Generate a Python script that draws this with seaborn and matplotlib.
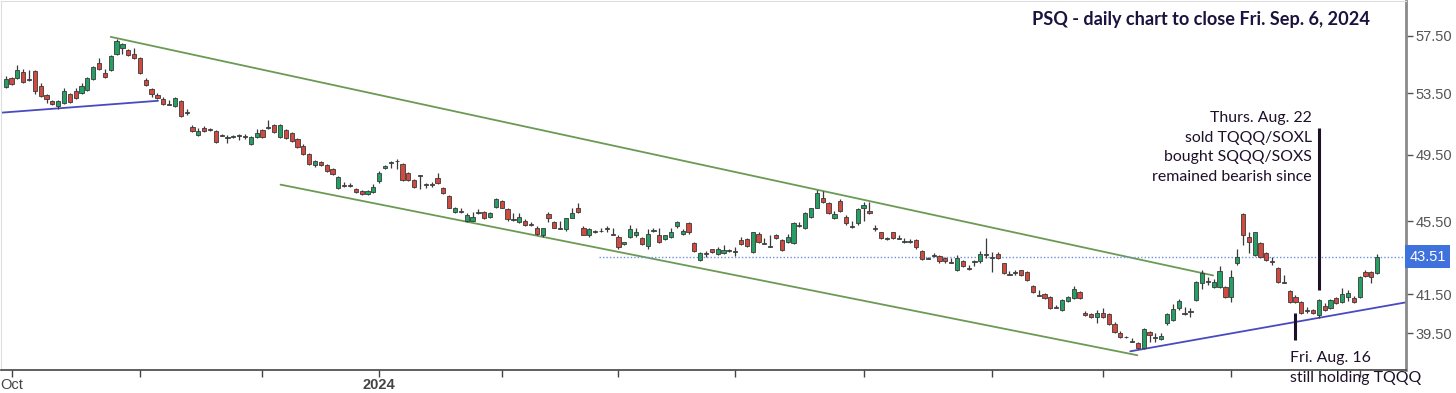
import numpy as np
import pandas as pd
import matplotlib
matplotlib.use("Agg")
import matplotlib.pyplot as plt
import seaborn as sns
from matplotlib.transforms import blended_transform_factory
from matplotlib.ticker import FixedLocator, FixedFormatter, NullLocator

# ---------------- data ----------------
start_date = "2023-09-29"
end_date = "2024-09-06"
market_holidays = ["2023-11-23", "2023-12-25", "2024-01-01", "2024-01-15", "2024-02-19",
                   "2024-03-29", "2024-05-27", "2024-06-19", "2024-07-04", "2024-09-02"]

opens = [53.92, 54.54, 54.54, 54.95, 54.45, 55.02, 53.99, 53.38, 52.98, 52.65,
         52.85, 53.45, 53.65, 53.52, 53.72, 54.47, 55.58, 54.88, 55.09, 56.21,
         56.64, 56.49, 56.21, 55.93, 54.40, 53.79, 53.38, 53.11, 52.75, 52.65,
         52.98, 52.15, 51.28, 50.76, 51.21, 51.10, 51.02, 50.73, 50.55, 50.62,
         50.68, 50.68, 50.19, 50.64, 51.08, 51.18, 51.40, 50.64, 51.08, 50.89,
         50.51, 50.06, 49.56, 48.88, 49.06, 48.88, 48.64, 47.48, 47.63, 47.62,
         47.42, 47.30, 47.12, 47.24, 47.90, 48.70, 49.00, 49.08, 48.94, 48.39,
         47.96, 48.22, 47.63, 47.70, 48.08, 47.48, 47.01, 46.02, 46.09, 45.55,
         45.55, 45.99, 46.07, 45.78, 46.36, 46.71, 46.19, 45.63, 45.44, 45.55,
         45.35, 45.15, 44.75, 45.90, 45.44, 45.12, 45.04, 45.72, 46.25, 45.15,
         44.70, 44.90, 44.98, 45.08, 44.78, 44.64, 44.20, 44.59, 44.70, 44.53,
         44.09, 44.95, 44.75, 44.48, 44.59, 45.21, 44.81, 45.38, 44.25, 43.31,
         43.73, 43.92, 43.64, 43.70, 43.84, 43.78, 44.42, 44.48, 43.75, 44.81,
         44.27, 44.06, 44.75, 44.42, 44.31, 44.25, 45.24, 45.10, 45.78, 46.30,
         46.89, 46.54, 45.67, 46.71, 45.78, 45.23, 45.38, 46.25, 46.13, 45.12,
         44.87, 44.51, 44.87, 44.55, 44.34, 44.35, 44.42, 43.81, 43.40, 43.57,
         43.53, 43.42, 43.22, 42.77, 43.26, 42.90, 43.23, 43.26, 43.62, 43.46,
         43.64, 43.15, 42.58, 42.64, 42.77, 42.66, 41.92, 41.46, 41.50, 41.34,
         40.84, 40.67, 41.13, 41.29, 41.60, 40.52, 40.46, 40.31, 40.52, 40.46,
         39.96, 39.51, 39.33, 39.10, 39.01, 38.77, 39.56, 39.29, 39.21, 40.01,
         40.16, 40.77, 40.54, 40.60, 41.18, 42.08, 42.21, 41.87, 41.87, 41.87,
         41.34, 43.15, 45.90, 44.64, 43.59, 44.25, 43.70, 43.28, 42.88, 42.10,
         41.65, 41.34, 41.08, 40.64, 40.67, 40.41, 40.88, 40.77, 41.29, 41.08,
         41.34, 41.29, 41.34, 42.66, 42.66, 42.61]
highs = [54.67, 54.60, 55.44, 55.16, 55.09, 55.09, 54.19, 53.45, 53.05, 53.05,
         53.85, 53.52, 53.85, 54.20, 54.60, 55.37, 55.93, 55.16, 56.14, 57.28,
         57.00, 56.56, 56.64, 56.00, 54.54, 53.85, 53.52, 53.24, 53.05, 53.24,
         53.05, 52.45, 51.40, 51.21, 51.34, 51.21, 51.08, 50.83, 50.76, 50.75,
         50.83, 50.80, 50.70, 51.15, 51.15, 51.73, 51.47, 51.47, 51.15, 50.95,
         50.57, 50.19, 49.62, 49.18, 49.12, 48.94, 48.70, 48.20, 47.84, 47.78,
         47.48, 47.36, 47.36, 47.72, 48.51, 48.88, 49.10, 49.24, 49.00, 48.45,
         48.02, 48.26, 47.78, 47.80, 48.39, 47.54, 47.07, 46.36, 46.30, 45.96,
         46.02, 46.19, 46.13, 46.02, 46.89, 46.77, 46.25, 45.96, 45.96, 45.61,
         45.44, 45.21, 45.15, 46.02, 45.50, 45.50, 45.72, 46.30, 46.54, 45.21,
         45.10, 45.00, 45.15, 45.21, 45.15, 44.70, 44.36, 45.27, 45.10, 44.64,
         45.04, 45.15, 45.15, 44.75, 45.10, 45.55, 45.04, 45.44, 44.31, 43.75,
         43.81, 43.97, 44.03, 44.14, 43.95, 44.03, 44.59, 44.53, 44.92, 44.87,
         44.53, 44.75, 44.81, 44.48, 44.81, 45.44, 45.44, 46.02, 46.30, 47.36,
         47.30, 46.60, 46.13, 46.83, 45.84, 45.55, 46.25, 46.60, 46.65, 45.27,
         44.92, 44.64, 44.92, 44.70, 44.53, 44.50, 44.48, 43.86, 43.48, 43.70,
         43.59, 43.48, 43.42, 43.59, 43.31, 43.09, 43.31, 43.81, 44.53, 43.75,
         43.75, 43.20, 42.72, 42.77, 42.82, 42.72, 41.97, 41.71, 41.55, 41.39,
         40.93, 41.24, 41.39, 41.92, 41.65, 40.62, 40.52, 40.67, 40.77, 40.52,
         40.06, 39.61, 39.36, 39.26, 39.06, 39.76, 39.61, 39.51, 39.51, 40.52,
         40.98, 41.24, 40.82, 40.77, 42.18, 42.82, 42.40, 42.29, 42.99, 41.92,
         42.82, 43.92, 45.96, 44.87, 44.92, 44.31, 43.75, 43.48, 42.93, 42.50,
         41.71, 41.44, 41.13, 40.82, 40.72, 41.24, 41.03, 41.24, 41.34, 41.81,
         41.71, 41.39, 42.45, 42.77, 42.72, 43.64]
lows = [53.85, 54.06, 54.47, 54.20, 54.33, 53.45, 53.24, 52.85, 52.72, 52.45,
        52.78, 52.85, 53.11, 53.45, 53.65, 54.40, 55.09, 54.54, 55.02, 56.14,
        56.21, 56.07, 55.86, 54.81, 53.99, 53.24, 53.11, 52.72, 52.68, 52.58,
        51.92, 52.05, 50.95, 50.70, 50.95, 51.00, 50.25, 50.66, 50.25, 50.55,
        50.45, 50.50, 50.12, 50.57, 50.57, 51.15, 50.89, 50.57, 50.51, 50.32,
        49.94, 49.50, 48.88, 48.76, 48.82, 48.45, 48.26, 47.42, 47.54, 47.54,
        47.18, 47.07, 47.07, 47.18, 47.78, 48.64, 48.70, 48.64, 47.90, 47.90,
        47.48, 47.42, 47.48, 47.50, 47.72, 47.12, 46.25, 45.96, 46.00, 45.44,
        45.50, 45.90, 45.61, 45.72, 46.30, 46.25, 45.55, 45.55, 45.38, 45.21,
        45.21, 44.75, 44.64, 45.44, 45.10, 45.04, 44.98, 45.67, 45.96, 44.70,
        44.64, 44.85, 44.90, 44.92, 44.72, 43.97, 44.14, 44.53, 44.59, 44.14,
        43.92, 44.87, 44.25, 44.42, 44.53, 45.10, 44.70, 44.81, 43.75, 43.26,
        43.48, 43.70, 43.59, 43.64, 43.78, 43.53, 44.14, 44.03, 43.70, 44.25,
        44.20, 44.03, 44.48, 43.81, 44.25, 44.20, 45.18, 45.04, 45.72, 46.25,
        46.54, 45.90, 45.61, 46.07, 45.32, 45.15, 45.32, 45.55, 45.90, 44.98,
        44.48, 44.45, 44.48, 44.48, 44.25, 44.28, 43.97, 43.31, 43.37, 43.48,
        43.20, 43.20, 43.15, 42.72, 42.93, 42.82, 42.99, 43.20, 43.42, 42.66,
        43.37, 42.56, 42.50, 42.50, 42.45, 42.18, 41.55, 41.39, 41.24, 40.72,
        40.77, 40.62, 41.08, 41.24, 41.24, 40.36, 40.26, 40.01, 40.26, 39.91,
        39.51, 39.26, 39.26, 39.06, 38.72, 38.72, 39.06, 39.06, 39.16, 39.91,
        40.11, 40.67, 40.41, 40.31, 41.13, 41.76, 41.97, 41.81, 41.81, 41.29,
        41.08, 43.09, 44.14, 43.70, 43.53, 43.42, 43.26, 43.04, 42.08, 42.08,
        41.03, 41.03, 40.46, 40.52, 40.46, 40.26, 40.62, 40.72, 40.98, 41.03,
        41.13, 41.03, 41.29, 42.40, 42.08, 42.56]
closes = [54.47, 54.13, 55.09, 54.26, 54.38, 53.65, 53.31, 53.11, 52.78, 52.98,
          53.65, 52.91, 53.18, 53.99, 54.54, 55.30, 55.16, 54.60, 56.07, 57.14,
          56.92, 56.14, 55.93, 54.88, 54.06, 53.45, 53.18, 52.78, 52.72, 53.18,
          51.99, 52.22, 51.02, 51.02, 51.02, 51.06, 50.32, 50.70, 50.60, 50.66,
          50.72, 50.64, 50.64, 50.89, 50.64, 51.23, 50.95, 51.40, 50.57, 50.38,
          50.00, 49.56, 48.94, 49.12, 48.88, 48.51, 48.33, 48.14, 47.60, 47.58,
          47.24, 47.12, 47.30, 47.54, 48.39, 48.82, 49.06, 49.12, 47.96, 47.96,
          47.54, 48.18, 47.68, 47.64, 47.78, 47.18, 46.30, 46.25, 46.05, 45.84,
          45.78, 46.04, 45.67, 45.96, 46.83, 46.30, 45.61, 45.60, 45.78, 45.27,
          45.30, 44.81, 45.10, 45.67, 45.15, 45.09, 45.67, 45.96, 46.02, 44.75,
          45.04, 44.94, 44.95, 45.12, 44.75, 44.03, 44.31, 45.04, 44.92, 44.20,
          44.81, 45.00, 44.31, 44.70, 44.87, 45.44, 44.98, 44.87, 43.81, 43.70,
          43.68, 43.75, 43.97, 43.86, 43.88, 43.82, 44.20, 44.09, 44.87, 44.31,
          44.24, 44.10, 44.53, 43.86, 44.59, 45.38, 45.28, 45.96, 46.25, 47.18,
          46.60, 45.96, 45.90, 46.13, 45.38, 45.20, 46.19, 46.48, 45.96, 45.08,
          44.53, 44.55, 44.53, 44.52, 44.39, 44.40, 44.03, 43.37, 43.44, 43.61,
          43.26, 43.26, 43.19, 43.42, 42.99, 42.87, 43.27, 43.64, 43.66, 43.50,
          43.42, 42.61, 42.55, 42.68, 42.50, 42.24, 41.60, 41.43, 41.29, 40.77,
          40.81, 41.18, 41.34, 41.76, 41.29, 40.41, 40.31, 40.52, 40.31, 39.96,
          39.56, 39.31, 39.30, 39.14, 38.77, 39.71, 39.41, 39.33, 39.36, 40.46,
          40.72, 41.13, 40.50, 40.64, 42.13, 42.61, 42.16, 42.13, 42.72, 41.34,
          42.40, 43.48, 44.75, 44.36, 44.87, 43.48, 43.31, 43.25, 42.13, 42.14,
          41.08, 41.08, 40.52, 40.69, 40.52, 41.18, 40.67, 41.18, 41.03, 41.50,
          41.55, 41.08, 42.40, 42.45, 42.40, 43.51]

last_close_label = "43.51"
y_ticks = [39.50, 41.50, 45.50, 49.50, 53.50, 57.50]

# trend lines: (bar index, price) pairs
trend_lines = {
    "channel_top": [(18.0, 57.43), (206.9, 42.50)],
    "channel_bottom": [(47.1, 47.66), (193.9, 38.43)],
    "support_2023": [(-0.8, 52.19), (26.1, 52.98)],
    "support_2024": [(192.7, 38.62), (239.9, 41.08)],
}
trend_colors = {"channel_top": "#6b9a55", "channel_bottom": "#6b9a55",
                "support_2023": "#4a4ac0", "support_2024": "#4a4ac0"}

title_text = "PSQ - daily chart to close Fri. Sep. 6, 2024"
note_aug22 = "Thurs. Aug. 22\nsold TQQQ/SOXL\nbought SQQQ/SOXS\nremained bearish since"
note_aug16 = "Fri. Aug. 16\nstill holding TQQQ"
aug22_line = ("2024-08-22", 51.21, 41.71)
aug16_line = ("2024-08-16", 40.52, 39.16)

# ---------------- build frame ----------------
dates = pd.bdate_range(start_date, end_date, freq="C", holidays=market_holidays)
df = pd.DataFrame({"date": dates, "open": opens, "high": highs, "low": lows, "close": closes})
df["idx"] = np.arange(len(df))

sns.set_theme(style="white")
plt.rcParams["font.family"] = ["Liberation Sans", "DejaVu Sans"]

fig = plt.figure(figsize=(14.56, 3.93), dpi=100)
ax = fig.add_axes([0.0007, 0.0585, 0.9650, 0.9390])
ax.set_yscale("log")

green = "#25a065"
red = "#d04a40"
edge = "#3a3a3a"
up = df["close"] >= df["open"]
body_lo = np.minimum(df["open"], df["close"])
body_h = np.maximum(np.abs(df["close"] - df["open"]), 0.02)

ax.vlines(df["idx"], df["low"], df["high"], color=edge, lw=0.9, zorder=2)
ax.bar(df["idx"], body_h, bottom=body_lo, width=0.72,
       color=np.where(up, green, red), edgecolor=edge, linewidth=0.6, zorder=3)

# trend lines via seaborn
rows = []
for name, pts in trend_lines.items():
    for (xv, yv) in pts:
        rows.append({"line": name, "x": xv, "y": yv})
tl = pd.DataFrame(rows)
for name, sub in tl.groupby("line"):
    sns.lineplot(data=sub, x="x", y="y", ax=ax, color=trend_colors[name],
                 lw=1.3, legend=False, zorder=1, estimator=None, sort=False)
ax.set_xlabel("")
ax.set_ylabel("")

x_min, x_max = -0.8, 239.95
ax.set_xlim(x_min, x_max)
ax.set_ylim(37.72, 60.09)

# dotted last-price line
ax.hlines(closes[-1], 101.6, x_max, color="#6f8fdc", lw=1.0,
          linestyles=(0, (1, 1.5)), zorder=1)

# annotation lines
for d, y0, y1 in (aug22_line, aug16_line):
    xi = int(np.where(df["date"] == pd.Timestamp(d))[0][0])
    ax.vlines(xi, y1, y0, color="#1e1028", lw=2.2, zorder=4)

# axes styling
ax.yaxis.tick_right()
ax.yaxis.set_major_locator(FixedLocator(y_ticks))
ax.yaxis.set_major_formatter(FixedFormatter([f"{v:.2f}" for v in y_ticks]))
ax.yaxis.set_minor_locator(NullLocator())
ax.tick_params(axis="y", which="major", direction="out", length=5, width=1,
               colors="#555555", labelsize=10.5, pad=2, right=True, left=False)

month_start = df.groupby(df["date"].dt.to_period("M"))["idx"].min()
month_start = month_start[month_start > 0]
xt = list(month_start.values)
xl = []
for per in month_start.index:
    if per.month == 10 and per.year == 2023:
        xl.append("Oct")
    elif per.month == 1:
        xl.append(str(per.year))
    else:
        xl.append("")
ax.set_xticks(xt)
ax.set_xticklabels(xl)
for lab in ax.get_xticklabels():
    if lab.get_text().isdigit():
        lab.set_fontweight("bold")
        lab.set_color("#333333")
ax.tick_params(axis="x", direction="out", length=5, width=1, colors="#444444",
               labelsize=10.5, pad=1, bottom=True)
ax.xaxis.set_minor_locator(NullLocator())

for s in ("top", "left"):
    ax.spines[s].set_color("#dddddd")
    ax.spines[s].set_linewidth(0.8)
ax.spines["right"].set_color("#8a8a8a")
ax.spines["right"].set_linewidth(2.0)
ax.spines["bottom"].set_color("#444444")
ax.spines["bottom"].set_linewidth(1.2)
ax.grid(False)

# last price tag
btr = blended_transform_factory(ax.transAxes, ax.transData)
ax.text(1.0025, closes[-1], last_close_label, transform=btr, ha="left", va="center",
        color="white", fontsize=10.5, clip_on=False,
        bbox=dict(boxstyle="square,pad=0.3", fc="#3f72dd", ec="none"))

# texts
fig.text(1370 / 1456, 1 - 20 / 393, title_text, ha="right", va="center",
         fontsize=13.1, fontweight="bold", color="#1c1240", family=["Lato", "DejaVu Sans"])
fig.text(1312 / 1456, 1 - 111 / 393, note_aug22, ha="right", va="top",
         fontsize=11.4, color="#1e1028", linespacing=1.52, family=["Lato", "DejaVu Sans"])
fig.text(1290 / 1456, 1 - 351 / 393, note_aug16, ha="left", va="top",
         fontsize=11.4, color="#1e1028", linespacing=1.52, family=["Lato", "DejaVu Sans"])

fig.savefig("out.png", dpi=100)
